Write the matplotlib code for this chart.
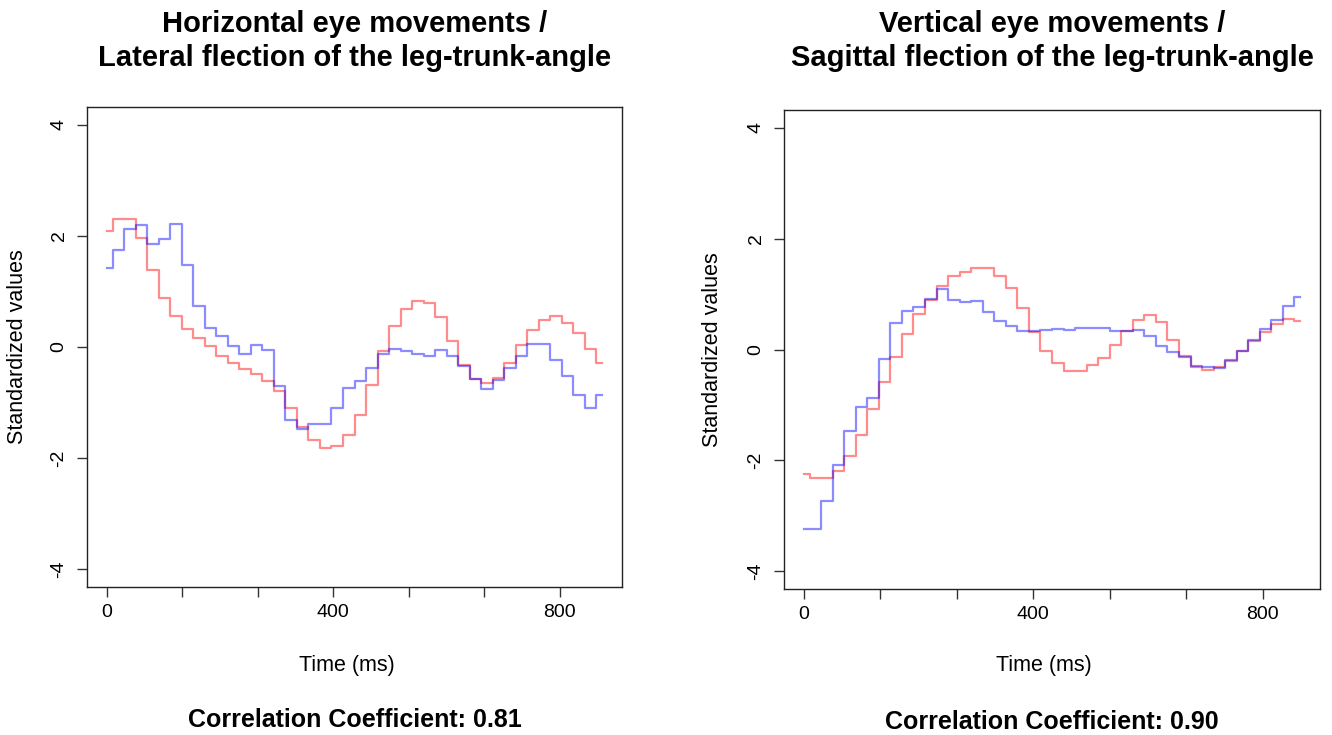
import numpy as np
import matplotlib
matplotlib.use("Agg")
import matplotlib.pyplot as plt

plt.rcParams['font.family'] = ['Liberation Sans', 'DejaVu Sans']

# sample times (ms), 44 samples per trial
time_h = np.linspace(0, 875, 44)
time_v = np.linspace(0, 865, 44)

# horizontal eye movements (blue) / lateral flection (red)
eye_h = [1.43, 1.75, 2.12, 2.20, 1.86, 1.94, 2.22, 1.48, 0.74, 0.35, 0.19, 0.01,
         -0.13, 0.04, -0.05, -0.70, -1.32, -1.47, -1.38, -1.38, -1.09, -0.73,
         -0.62, -0.38, -0.13, -0.04, -0.08, -0.13, -0.16, -0.05, -0.16, -0.34,
         -0.58, -0.76, -0.59, -0.37, -0.16, 0.06, 0.06, -0.24, -0.52, -0.86,
         -1.09, -0.86]
leg_h = [2.09, 2.31, 2.31, 1.97, 1.39, 0.88, 0.55, 0.32, 0.16, 0.01, -0.16, -0.29,
         -0.40, -0.49, -0.62, -0.80, -1.09, -1.44, -1.68, -1.81, -1.79, -1.59,
         -1.23, -0.68, -0.08, 0.37, 0.68, 0.83, 0.79, 0.54, 0.11, -0.32, -0.58,
         -0.65, -0.55, -0.29, 0.04, 0.31, 0.49, 0.55, 0.44, 0.25, -0.04, -0.28]

# vertical eye movements (blue) / sagittal flection (red)
eye_v = [-3.23, -3.23, -2.73, -2.09, -1.47, -1.04, -0.87, -0.17, 0.47, 0.70, 0.77,
         0.91, 1.09, 0.90, 0.85, 0.88, 0.67, 0.52, 0.43, 0.34, 0.33, 0.35, 0.37,
         0.35, 0.38, 0.39, 0.39, 0.33, 0.34, 0.35, 0.25, 0.07, -0.05, -0.14,
         -0.29, -0.31, -0.33, -0.19, -0.02, 0.18, 0.37, 0.53, 0.79, 0.95]
leg_v = [-2.24, -2.31, -2.31, -2.19, -1.93, -1.54, -1.08, -0.59, -0.13, 0.28, 0.64,
         0.90, 1.15, 1.32, 1.39, 1.47, 1.47, 1.33, 1.11, 0.74, 0.32, -0.02, -0.24,
         -0.38, -0.38, -0.28, -0.15, 0.08, 0.34, 0.53, 0.62, 0.49, 0.17, -0.12,
         -0.32, -0.37, -0.32, -0.20, -0.03, 0.15, 0.31, 0.46, 0.55, 0.52]

titles = ["Horizontal eye movements /\nLateral flection of the leg-trunk-angle",
          "Vertical eye movements /\nSagittal flection of the leg-trunk-angle"]
corr = ["Correlation Coefficient: 0.81", "Correlation Coefficient: 0.90"]

W, H = 1332, 735
fig = plt.figure(figsize=(W / 100, H / 100), dpi=100)


def px(x, y):
    return x / W, 1 - y / H


panels = [
    # axes box in pixels, ylabel x, corr y
    dict(box=(87, 107, 622, 587), t=time_h, eye=eye_h, leg=leg_h, ylab=18, cy=720),
    dict(box=(784, 110, 1320, 589), t=time_v, eye=eye_v, leg=leg_v, ylab=713, cy=722),
]

for k, p in enumerate(panels):
    x0, y0, x1, y1 = p['box']
    ax = fig.add_axes([x0 / W, 1 - y1 / H, (x1 - x0) / W, (y1 - y0) / H])
    ax.plot(p['t'], p['leg'], drawstyle='steps-mid', color='red', alpha=0.45, lw=1.6)
    ax.plot(p['t'], p['eye'], drawstyle='steps-mid', color='blue', alpha=0.45, lw=1.6)
    tmax = p['t'][-1]
    ax.set_xlim(-0.04 * tmax, 1.04 * tmax)
    ax.set_ylim(-4.32, 4.32)
    xt = [i * 400 / 3 for i in range(7)]
    ax.set_xticks(xt)
    ax.set_xticklabels(['0', '', '', '400', '', '', '800'])
    ax.set_yticks([-4, -2, 0, 2, 4])
    ax.set_yticklabels(['-4', '-2', '0', '2', '4'], rotation=90, va='center')
    ax.tick_params(axis='both', length=7, width=1, color='#333333', labelsize=14)
    ax.tick_params(axis='x', pad=5)
    ax.tick_params(axis='y', pad=7)
    for s in ax.spines.values():
        s.set_linewidth(1.0)
        s.set_color('#222222')

    cx = (x0 + x1) / 2
    fig.text(*px(cx, 41), titles[k], ha='center', va='center', fontsize=21,
             fontweight='bold', linespacing=1.3)
    fig.text(*px(cx - 8, 665), "Time (ms)", ha='center', va='center', fontsize=15.5)
    fig.text(*px(p['ylab'], (y0 + y1) / 2), "Standardized values", ha='center',
             va='center', rotation=90, fontsize=15.5)
    fig.text(*px(cx, p['cy']), corr[k], ha='center', va='center', fontsize=18,
             fontweight='bold')

fig.savefig("out.png", dpi=100)
